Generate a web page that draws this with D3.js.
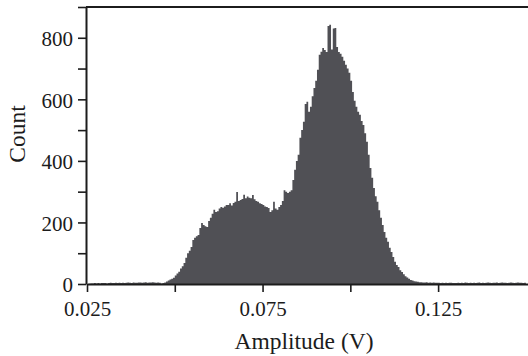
<!DOCTYPE html>
<html lang="en">
<head>
    <meta charset="UTF-8">
    <title>Amplitude histogram</title>
    <script src="https://d3js.org/d3.v7.min.js"></script>
    <style>
        body, html {
            margin: 0;
            padding: 0;
            background: #fff;
        }
        svg {
            display: block;
            font-family: 'Liberation Serif', 'Times New Roman', serif;
        }
    </style>
</head>
<body>
    <script>
        'use strict'

        // histogram bins (amplitude in V)
        const binStart = 0.025
        const binWidth = 0.0005
        const counts = [
            0, 1, 2, 2, 3, 2, 3, 2, 3, 3,
            3, 2, 3, 4, 3, 3, 4, 3, 4, 3,
            4, 3, 4, 5, 4, 3, 5, 4, 4, 5,
            5, 4, 5, 6, 4, 5, 5, 6, 5, 4,
            5, 4, 2, 3, 5, 8, 11, 15, 17, 20,
            28, 34, 40, 50, 58, 68, 85, 100, 108, 120,
            143, 150, 155, 159, 182, 198, 192, 188, 185, 205,
            215, 228, 241, 234, 236, 245, 250, 248, 252, 257,
            257, 262, 255, 263, 267, 299, 270, 273, 276, 290,
            279, 284, 280, 279, 289, 275, 270, 267, 262, 260,
            257, 252, 250, 247, 234, 240, 267, 245, 241, 250,
            257, 270, 305, 300, 296, 300, 305, 338, 371, 400,
            420, 475, 500, 527, 585, 592, 560, 576, 610, 637,
            660, 696, 745, 755, 767, 760, 754, 838, 842, 762,
            830, 832, 770, 754, 748, 738, 725, 712, 700, 686,
            660, 624, 595, 576, 560, 550, 530, 517, 490, 462,
            420, 377, 345, 312, 285, 267, 240, 215, 192, 169,
            150, 137, 118, 104, 88, 72, 62, 55, 45, 39,
            32, 25, 21, 17, 13, 11, 9, 8, 7, 6,
            6, 5, 5, 6, 4, 5, 4, 5, 4, 4,
            4, 3, 4, 3, 4, 3, 4, 4, 3, 3,
            3, 4, 3, 4, 3, 5, 4, 3, 4, 3,
            4, 3, 4, 5, 3, 4, 3, 4, 5, 4,
            3, 4, 4, 5, 3, 4, 5, 4, 4, 3,
            4, 5, 4, 3, 4, 5, 4, 4, 3, 4
        ]

        const xTicks = [0.025, 0.05, 0.075, 0.1, 0.125]
        const xLabelTicks = [0.025, 0.075, 0.125]
        const yTicks = [0, 100, 200, 300, 400, 500, 600, 700, 800, 900]
        const yLabelTicks = [0, 200, 400, 600, 800]

        const w = 528
        const h = 356
        const ink = '#1c1c1c'

        const bins = counts.map((c, i) => ({x0: binStart + i * binWidth, count: c}))

        const svg = d3.select('body')
            .append('svg')
            .attr('width', w)
            .attr('height', h)

        const x = d3.scaleLinear()
            .domain([0.025, 0.1506])
            .range([87, 528])

        const y = d3.scaleLinear()
            .domain([0, 900])
            .range([284, 7])

        //histogram as a step area
        const stepData = bins.concat([{x0: binStart + counts.length * binWidth, count: counts[counts.length - 1]}])
        const area = d3.area()
            .curve(d3.curveStepAfter)
            .x(d => x(d.x0))
            .y0(y(0))
            .y1(d => y(d.count))

        svg.append('path')
            .datum(stepData)
            .attr('d', area)
            .attr('fill', '#505055')

        //axes
        const xAxis = d3.axisBottom(x)
            .tickValues(xTicks)
            .tickSize(8)
            .tickSizeOuter(0)
            .tickPadding(9)
            .tickFormat(d => xLabelTicks.includes(d) ? d3.format('.3f')(d) : '')

        const gx = svg.append('g')
            .attr('transform', `translate(0, ${y(0)})`)
            .call(xAxis)

        const yAxis = d3.axisLeft(y)
            .tickValues(yTicks)
            .tickSize(8)
            .tickSizeOuter(0)
            .tickPadding(5)
            .tickFormat(d => yLabelTicks.includes(d) ? d : '')

        const gy = svg.append('g')
            .attr('transform', `translate(${x(0.025) - 1}, 0)`)
            .call(yAxis)

        for (const g of [gx, gy]) {
            g.select('.domain').attr('stroke', ink).attr('stroke-width', 2)
            g.selectAll('.tick line').attr('stroke', ink).attr('stroke-width', 1.6)
            g.selectAll('.tick text')
                .attr('fill', ink)
                .style('font-family', "'Liberation Serif', serif")
                .style('font-size', '21px')
        }
        gy.selectAll('.tick text').attr('dy', '0.38em')

        //top frame line
        svg.append('line')
            .attr('x1', x(0.025) - 1)
            .attr('x2', w)
            .attr('y1', y(900))
            .attr('y2', y(900))
            .attr('stroke', ink)
            .attr('stroke-width', 2)

        //labels
        svg.append('text')
            .text('Amplitude (V)')
            .attr('x', 304)
            .attr('y', 349)
            .attr('text-anchor', 'middle')
            .attr('fill', ink)
            .style('font-size', '23.5px')

        svg.append('text')
            .text('Count')
            .attr('transform', `translate(25, 134) rotate(-90)`)
            .attr('text-anchor', 'middle')
            .attr('fill', ink)
            .style('font-size', '23.5px')
    </script>
</body>
</html>
